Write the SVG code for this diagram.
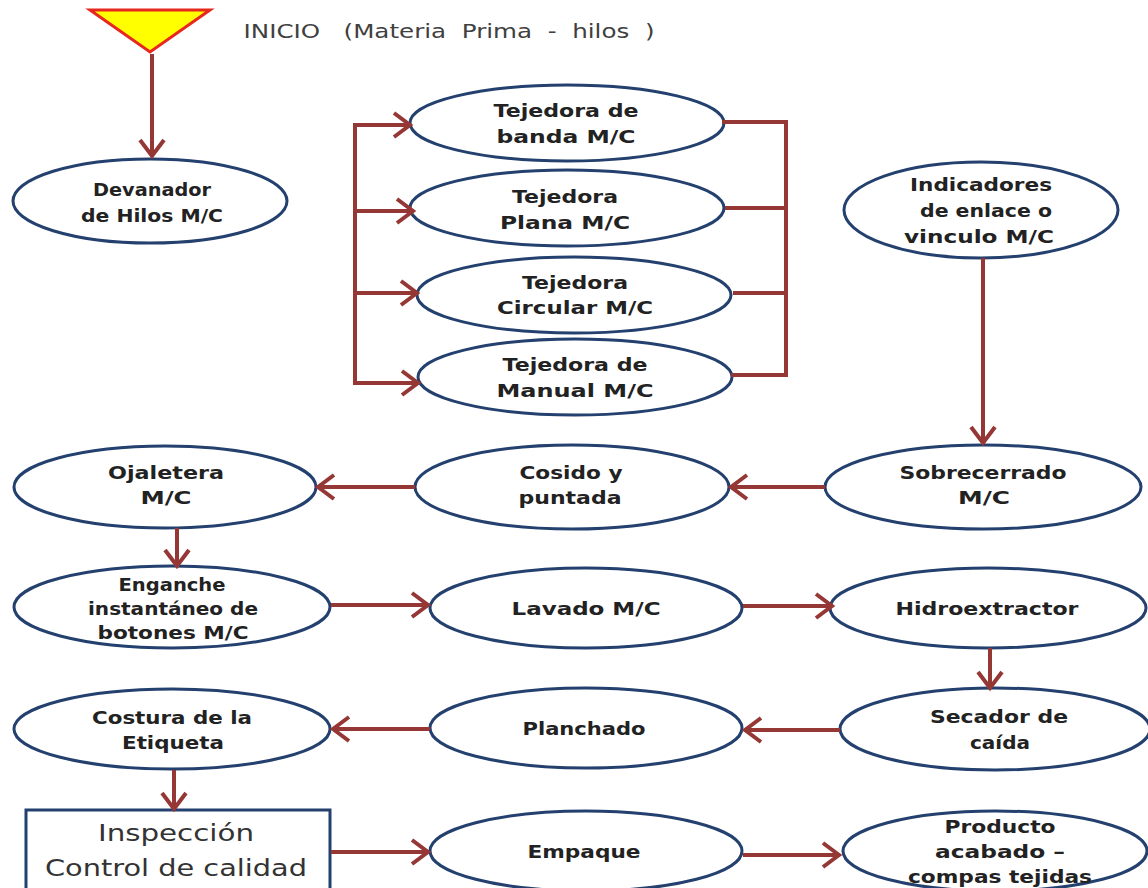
<svg xmlns="http://www.w3.org/2000/svg" width="1148" height="888" viewBox="0 0 1148 888">
  <style>
    .node ellipse, .node rect { fill: #ffffff; stroke: #23406e; stroke-width: 3; }
    .lbl { font-family: "DejaVu Sans", "Liberation Sans", sans-serif; font-weight: bold; font-size: 18px; fill: #222222; text-anchor: middle; }
    .plain { font-family: "DejaVu Sans", "Liberation Sans", sans-serif; font-size: 23px; fill: #333333; text-anchor: middle; }
    .conn line, .conn path { stroke: #953735; stroke-width: 4; fill: none; }
    .arrow { marker-end: url(#chev); }
  </style>
  <defs>
    <marker id="chev" markerUnits="userSpaceOnUse" viewBox="0 0 32 32" markerWidth="32" markerHeight="32" refX="28" refY="16" orient="auto">
      <path d="M12,4 L28,16 L12,28" fill="none" stroke="#953735" stroke-width="4"/>
    </marker>
  </defs>

  <rect width="1148" height="888" fill="#ffffff"/>

  <!-- start symbol -->
  <g id="inicio">
    <polygon points="90,10 210,10 150,52" fill="#ffff00" stroke="#e8271f" stroke-width="3"/>
    <text x="449" y="38" font-family="DejaVu Sans, Liberation Sans, sans-serif" font-size="20" fill="#404040" textLength="411" lengthAdjust="spacingAndGlyphs" text-anchor="middle" xml:space="preserve">INICIO   (Materia  Prima  -  hilos  )</text>
  </g>

  <g id="devanador" class="node">
    <ellipse cx="150" cy="201" rx="137" ry="42"/>
    <text class="lbl" x="152" y="196" textLength="118" lengthAdjust="spacingAndGlyphs">Devanador</text>
    <text class="lbl" x="152" y="222" textLength="142" lengthAdjust="spacingAndGlyphs">de Hilos M/C</text>
  </g>

  <g id="tej-banda" class="node">
    <ellipse cx="567" cy="123" rx="157" ry="38"/>
    <text class="lbl" x="566" y="117" textLength="145" lengthAdjust="spacingAndGlyphs">Tejedora de</text>
    <text class="lbl" x="566" y="143" textLength="139" lengthAdjust="spacingAndGlyphs">banda  M/C</text>
  </g>
  <g id="tej-plana" class="node">
    <ellipse cx="567" cy="208" rx="157" ry="38"/>
    <text class="lbl" x="565" y="203" textLength="106" lengthAdjust="spacingAndGlyphs">Tejedora</text>
    <text class="lbl" x="565" y="229" textLength="130" lengthAdjust="spacingAndGlyphs">Plana  M/C</text>
  </g>
  <g id="tej-circular" class="node">
    <ellipse cx="574" cy="295" rx="157" ry="38"/>
    <text class="lbl" x="575" y="289" textLength="106" lengthAdjust="spacingAndGlyphs">Tejedora</text>
    <text class="lbl" x="575" y="314" textLength="156" lengthAdjust="spacingAndGlyphs">Circular M/C</text>
  </g>
  <g id="tej-manual" class="node">
    <ellipse cx="575" cy="377" rx="157" ry="38"/>
    <text class="lbl" x="575" y="371" textLength="145" lengthAdjust="spacingAndGlyphs">Tejedora de</text>
    <text class="lbl" x="575" y="397" textLength="157" lengthAdjust="spacingAndGlyphs">Manual  M/C</text>
  </g>

  <g id="indicadores" class="node">
    <ellipse cx="981" cy="210" rx="137" ry="48"/>
    <text class="lbl" x="981" y="191" textLength="142" lengthAdjust="spacingAndGlyphs">Indicadores</text>
    <text class="lbl" x="986" y="217" textLength="132" lengthAdjust="spacingAndGlyphs">de enlace o</text>
    <text class="lbl" x="979" y="243" textLength="150" lengthAdjust="spacingAndGlyphs">vinculo  M/C</text>
  </g>

  <g id="ojaletera" class="node">
    <ellipse cx="165" cy="487" rx="151" ry="41"/>
    <text class="lbl" x="166" y="479" textLength="116" lengthAdjust="spacingAndGlyphs">Ojaletera</text>
    <text class="lbl" x="166" y="504" textLength="51" lengthAdjust="spacingAndGlyphs">M/C</text>
  </g>
  <g id="cosido" class="node">
    <ellipse cx="572" cy="487" rx="157" ry="42"/>
    <text class="lbl" x="571" y="479" textLength="103" lengthAdjust="spacingAndGlyphs">Cosido y</text>
    <text class="lbl" x="570" y="504" textLength="103" lengthAdjust="spacingAndGlyphs">puntada</text>
  </g>
  <g id="sobrecerrado" class="node">
    <ellipse cx="983" cy="487" rx="158" ry="42"/>
    <text class="lbl" x="983" y="479" textLength="167" lengthAdjust="spacingAndGlyphs">Sobrecerrado</text>
    <text class="lbl" x="984" y="504" textLength="52" lengthAdjust="spacingAndGlyphs">M/C</text>
  </g>

  <g id="enganche" class="node">
    <ellipse cx="172" cy="607" rx="158" ry="41"/>
    <text class="lbl" x="172" y="591" textLength="107" lengthAdjust="spacingAndGlyphs">Enganche</text>
    <text class="lbl" x="173" y="615" textLength="170" lengthAdjust="spacingAndGlyphs">instantáneo de</text>
    <text class="lbl" x="173" y="639" textLength="151" lengthAdjust="spacingAndGlyphs">botones M/C</text>
  </g>
  <g id="lavado" class="node">
    <ellipse cx="586" cy="608" rx="156" ry="40"/>
    <text class="lbl" x="586" y="615" textLength="149" lengthAdjust="spacingAndGlyphs">Lavado M/C</text>
  </g>
  <g id="hidroextractor" class="node">
    <ellipse cx="988" cy="608" rx="158" ry="40"/>
    <text class="lbl" x="987" y="615" textLength="183" lengthAdjust="spacingAndGlyphs">Hidroextractor</text>
  </g>

  <g id="costura" class="node">
    <ellipse cx="172" cy="729" rx="158" ry="40"/>
    <text class="lbl" x="172" y="724" textLength="160" lengthAdjust="spacingAndGlyphs">Costura de la</text>
    <text class="lbl" x="173" y="749" textLength="102" lengthAdjust="spacingAndGlyphs">Etiqueta</text>
  </g>
  <g id="planchado" class="node">
    <ellipse cx="586" cy="728" rx="156" ry="40"/>
    <text class="lbl" x="584" y="735" textLength="123" lengthAdjust="spacingAndGlyphs">Planchado</text>
  </g>
  <g id="secador" class="node">
    <ellipse cx="995" cy="729" rx="155" ry="41"/>
    <text class="lbl" x="999" y="723" textLength="138" lengthAdjust="spacingAndGlyphs">Secador de</text>
    <text class="lbl" x="1000" y="749" textLength="60" lengthAdjust="spacingAndGlyphs">caída</text>
  </g>

  <g id="inspeccion" class="node">
    <rect x="26" y="810" width="304" height="90"/>
    <text class="plain" x="176" y="841" textLength="156" lengthAdjust="spacingAndGlyphs">Inspección</text>
    <text class="plain" x="176" y="876" textLength="262" lengthAdjust="spacingAndGlyphs">Control de calidad</text>
  </g>
  <g id="empaque" class="node">
    <ellipse cx="586" cy="851" rx="156" ry="40"/>
    <text class="lbl" x="584" y="858" textLength="113" lengthAdjust="spacingAndGlyphs">Empaque</text>
  </g>
  <g id="producto" class="node">
    <ellipse cx="995" cy="851" rx="152" ry="40"/>
    <text class="lbl" x="1000" y="833" textLength="111" lengthAdjust="spacingAndGlyphs">Producto</text>
    <text class="lbl" x="1000" y="858" textLength="130" lengthAdjust="spacingAndGlyphs">acabado  –</text>
    <text class="lbl" x="1000" y="883" textLength="184" lengthAdjust="spacingAndGlyphs">compas  tejidas</text>
  </g>

  <!-- connectors -->
  <g id="connectors" class="conn">
    <line class="arrow" x1="152" y1="54" x2="152" y2="156"/>

    <!-- distribution bus to the knitting machines -->
    <line x1="355" y1="123" x2="355" y2="385"/>
    <line class="arrow" x1="353" y1="125" x2="410" y2="125"/>
    <line class="arrow" x1="355" y1="211" x2="413" y2="211"/>
    <line class="arrow" x1="355" y1="293" x2="417" y2="293"/>
    <line class="arrow" x1="353" y1="383" x2="418" y2="383"/>

    <!-- collecting bus on the right -->
    <line x1="786" y1="120" x2="786" y2="377"/>
    <line x1="722" y1="122" x2="788" y2="122"/>
    <line x1="725" y1="208" x2="786" y2="208"/>
    <line x1="733" y1="293" x2="786" y2="293"/>
    <line x1="731" y1="375" x2="788" y2="375"/>

    <line class="arrow" x1="983" y1="258" x2="983" y2="443"/>

    <line class="arrow" x1="825" y1="487" x2="731" y2="487"/>
    <line class="arrow" x1="415" y1="487" x2="318" y2="487"/>
    <line class="arrow" x1="177" y1="528" x2="177" y2="566"/>

    <line class="arrow" x1="331" y1="605" x2="428" y2="605"/>
    <line class="arrow" x1="743" y1="606" x2="832" y2="606"/>
    <line class="arrow" x1="990" y1="648" x2="990" y2="688"/>

    <line class="arrow" x1="840" y1="730" x2="745" y2="730"/>
    <line class="arrow" x1="430" y1="729" x2="333" y2="729"/>
    <line class="arrow" x1="174" y1="770" x2="174" y2="809"/>

    <line class="arrow" x1="331" y1="852" x2="428" y2="852"/>
    <line class="arrow" x1="743" y1="855" x2="839" y2="855"/>
  </g>
</svg>
